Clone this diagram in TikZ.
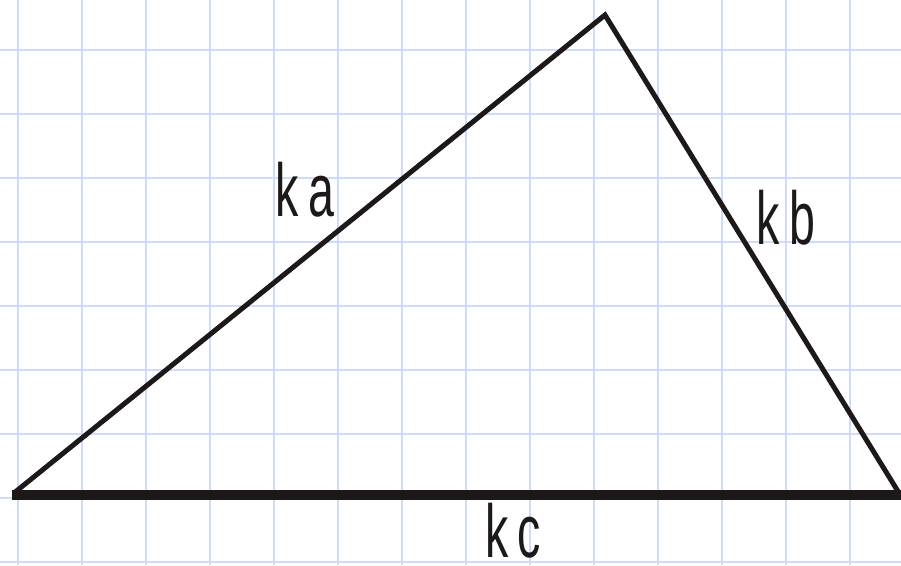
\documentclass[tikz,border=0pt]{standalone}
\usepackage{fontspec}
\newfontfamily\lblfont[FakeStretch=0.62,LetterSpace=12]{Liberation Sans}
\usetikzlibrary{positioning,calc}

\definecolor{gridblue}{RGB}{206,219,250}
\definecolor{inkblack}{RGB}{28,25,24}

\begin{document}
\begin{tikzpicture}[x=1pt,y=1pt,
  gridln/.style={draw=gridblue,line width=1.4pt},
  side/.style={draw=inkblack,line width=5pt,line join=miter},
  base/.style={draw=inkblack,line width=10.5pt},
  lbl/.style={inner sep=0pt,text=inkblack,font=\lblfont\fontsize{75}{80}\selectfont}]
\useasboundingbox (0,0) rectangle (901,565);
% squared paper
\foreach \i in {0,...,13}
  \draw[gridln] (18+64*\i,0) -- (18+64*\i,565);
\foreach \j in {0,...,8}
  \draw[gridln] (0,515-64*\j) -- (901,515-64*\j);
% triangle
\coordinate (A) at (14,72);
\coordinate (B) at (899,72);
\coordinate (C) at (605,550);
\coordinate (E) at (901,70);
\draw[side] (A) -- (C) -- (B);
\draw[base] (A) ++(-2,-2) -- (E);
% side labels
\node[lbl] (ka) at (305,375) {ka};
\node[lbl] (kb) at (786,347) {kb};
\node[lbl] (kc) at (513,34) {kc};
\end{tikzpicture}
\end{document}
